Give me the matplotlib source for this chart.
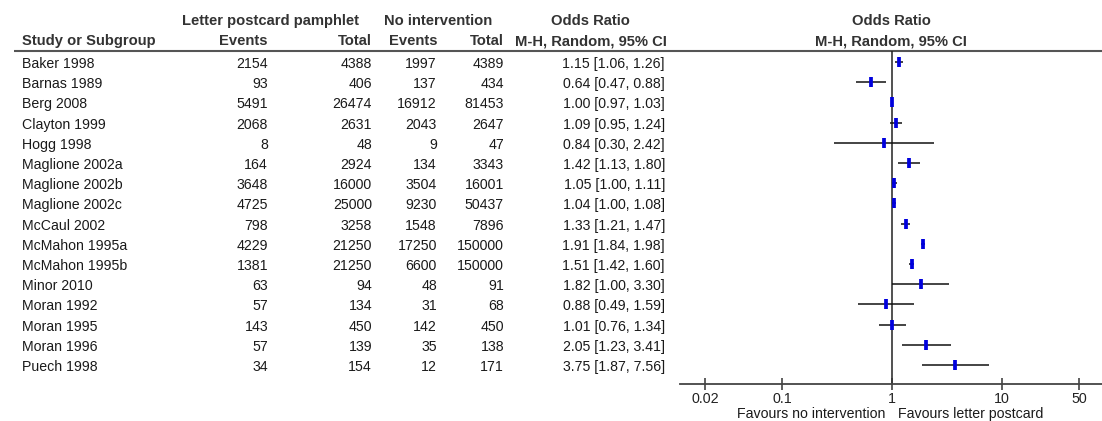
import matplotlib
matplotlib.use("Agg")
import matplotlib.pyplot as plt
import matplotlib.transforms as mtransforms
from matplotlib.ticker import FixedLocator, NullLocator

plt.rcParams["font.family"] = ["Liberation Sans", "DejaVu Sans"]

studies = ["Baker 1998", "Barnas 1989", "Berg 2008", "Clayton 1999", "Hogg 1998",
           "Maglione 2002a", "Maglione 2002b", "Maglione 2002c", "McCaul 2002",
           "McMahon 1995a", "McMahon 1995b", "Minor 2010", "Moran 1992",
           "Moran 1995", "Moran 1996", "Puech 1998"]
events_int = [2154, 93, 5491, 2068, 8, 164, 3648, 4725, 798, 4229, 1381, 63, 57, 143, 57, 34]
total_int = [4388, 406, 26474, 2631, 48, 2924, 16000, 25000, 3258, 21250, 21250, 94, 134, 450, 139, 154]
events_ctl = [1997, 137, 16912, 2043, 9, 134, 3504, 9230, 1548, 17250, 6600, 48, 31, 142, 35, 12]
total_ctl = [4389, 434, 81453, 2647, 47, 3343, 16001, 50437, 7896, 150000, 150000, 91, 68, 450, 138, 171]
odds = [1.15, 0.64, 1.00, 1.09, 0.84, 1.42, 1.05, 1.04, 1.33, 1.91, 1.51, 1.82, 0.88, 1.01, 2.05, 3.75]
ci_low = [1.06, 0.47, 0.97, 0.95, 0.30, 1.13, 1.00, 1.00, 1.21, 1.84, 1.42, 1.00, 0.49, 0.76, 1.23, 1.87]
ci_high = [1.26, 0.88, 1.03, 1.24, 2.42, 1.80, 1.11, 1.08, 1.47, 1.98, 1.60, 3.30, 1.59, 1.34, 3.41, 7.56]
tick_values = [0.02, 0.1, 1, 10, 50]
tick_labels = ["0.02", "0.1", "1", "10", "50"]

W, H = 1102, 421
fig = plt.figure(figsize=(W / 100, H / 100), dpi=100)
fig.patch.set_facecolor("white")

# Background axes in pixel units for the table layout
bg = fig.add_axes([0, 0, 1, 1])
bg.set_xlim(0, W)
bg.set_ylim(H, 0)
bg.axis("off")

# Forest plot panel
top_px, bot_px, left_px = 51, 384, 680
ax = fig.add_axes([left_px / W, (H - bot_px) / H, (W - left_px) / W, (bot_px - top_px) / H])
ax.set_facecolor("none")
ax.set_xscale("log")
ax.set_xlim(10 ** -1.927, 10 ** 1.909)
row0, step = 62.0, 20.2
ax.set_ylim((bot_px - row0) / step, (top_px - row0) / step)

rows = list(range(len(studies)))
ax.hlines(rows, ci_low, ci_high, color="#111111", lw=1.1, zorder=2)
ax.plot(odds, rows, linestyle="none", marker="|", markersize=7.5,
        markeredgewidth=2.7, color="#0000dd", zorder=3)
ax.axvline(1, color="#222222", lw=1.1, zorder=1)

for s in ["top", "right", "left"]:
    ax.spines[s].set_visible(False)
ax.spines["bottom"].set_color("#444444")
ax.spines["bottom"].set_linewidth(1.3)
ax.xaxis.set_major_locator(FixedLocator(tick_values))
ax.xaxis.set_minor_locator(NullLocator())
ax.set_xticklabels(tick_labels)
ax.tick_params(axis="x", direction="inout", length=9, width=1.1, color="#333333",
               labelsize=10.3, labelcolor="#222222", pad=1)
ax.set_yticks([])

txt = dict(fontsize=10.2, color="#1a1a1a")
hdr = dict(fontsize=10.6, color="#333333", fontweight="bold")

# Header lines
bg.text(270, 21, "Letter postcard pamphlet", ha="center", va="center", **hdr)
bg.text(438, 21, "No intervention", ha="center", va="center", **hdr)
bg.text(590, 21, "Odds Ratio", ha="center", va="center", **hdr)
bg.text(891, 21, "Odds Ratio", ha="center", va="center", **hdr)
bg.text(22, 41, "Study or Subgroup", ha="left", va="center", **hdr)
bg.text(268, 41, "Events", ha="right", va="center", **hdr)
bg.text(372, 41, "Total", ha="right", va="center", **hdr)
bg.text(437, 41, "Events", ha="right", va="center", **hdr)
bg.text(504, 41, "Total", ha="right", va="center", **hdr)
bg.text(591, 41, "M-H, Random, 95% CI", ha="center", va="center", **hdr)
bg.text(891, 41, "M-H, Random, 95% CI", ha="center", va="center", **hdr)
bg.plot([14, W], [51, 51], color="#555555", lw=1.5, solid_capstyle="butt")

# Study rows: x in pixels, y follows forest rows
trans = mtransforms.blended_transform_factory(bg.transData, ax.transData)
for i, name in enumerate(studies):
    y = i + 0.1
    bg.text(22, y, name, ha="left", va="center", transform=trans, **txt)
    bg.text(268, y, f"{events_int[i]}", ha="right", va="center", transform=trans, **txt)
    bg.text(372, y, f"{total_int[i]}", ha="right", va="center", transform=trans, **txt)
    bg.text(437, y, f"{events_ctl[i]}", ha="right", va="center", transform=trans, **txt)
    bg.text(504, y, f"{total_ctl[i]}", ha="right", va="center", transform=trans, **txt)
    bg.text(665, y, f"{odds[i]:.2f} [{ci_low[i]:.2f}, {ci_high[i]:.2f}]",
            ha="right", va="center", transform=trans, **txt)

bg.text(885, 414, "Favours no intervention", ha="right", va="center", **txt)
bg.text(898, 414, "Favours letter postcard", ha="left", va="center", **txt)

fig.savefig("out.png", dpi=100, facecolor="white")
